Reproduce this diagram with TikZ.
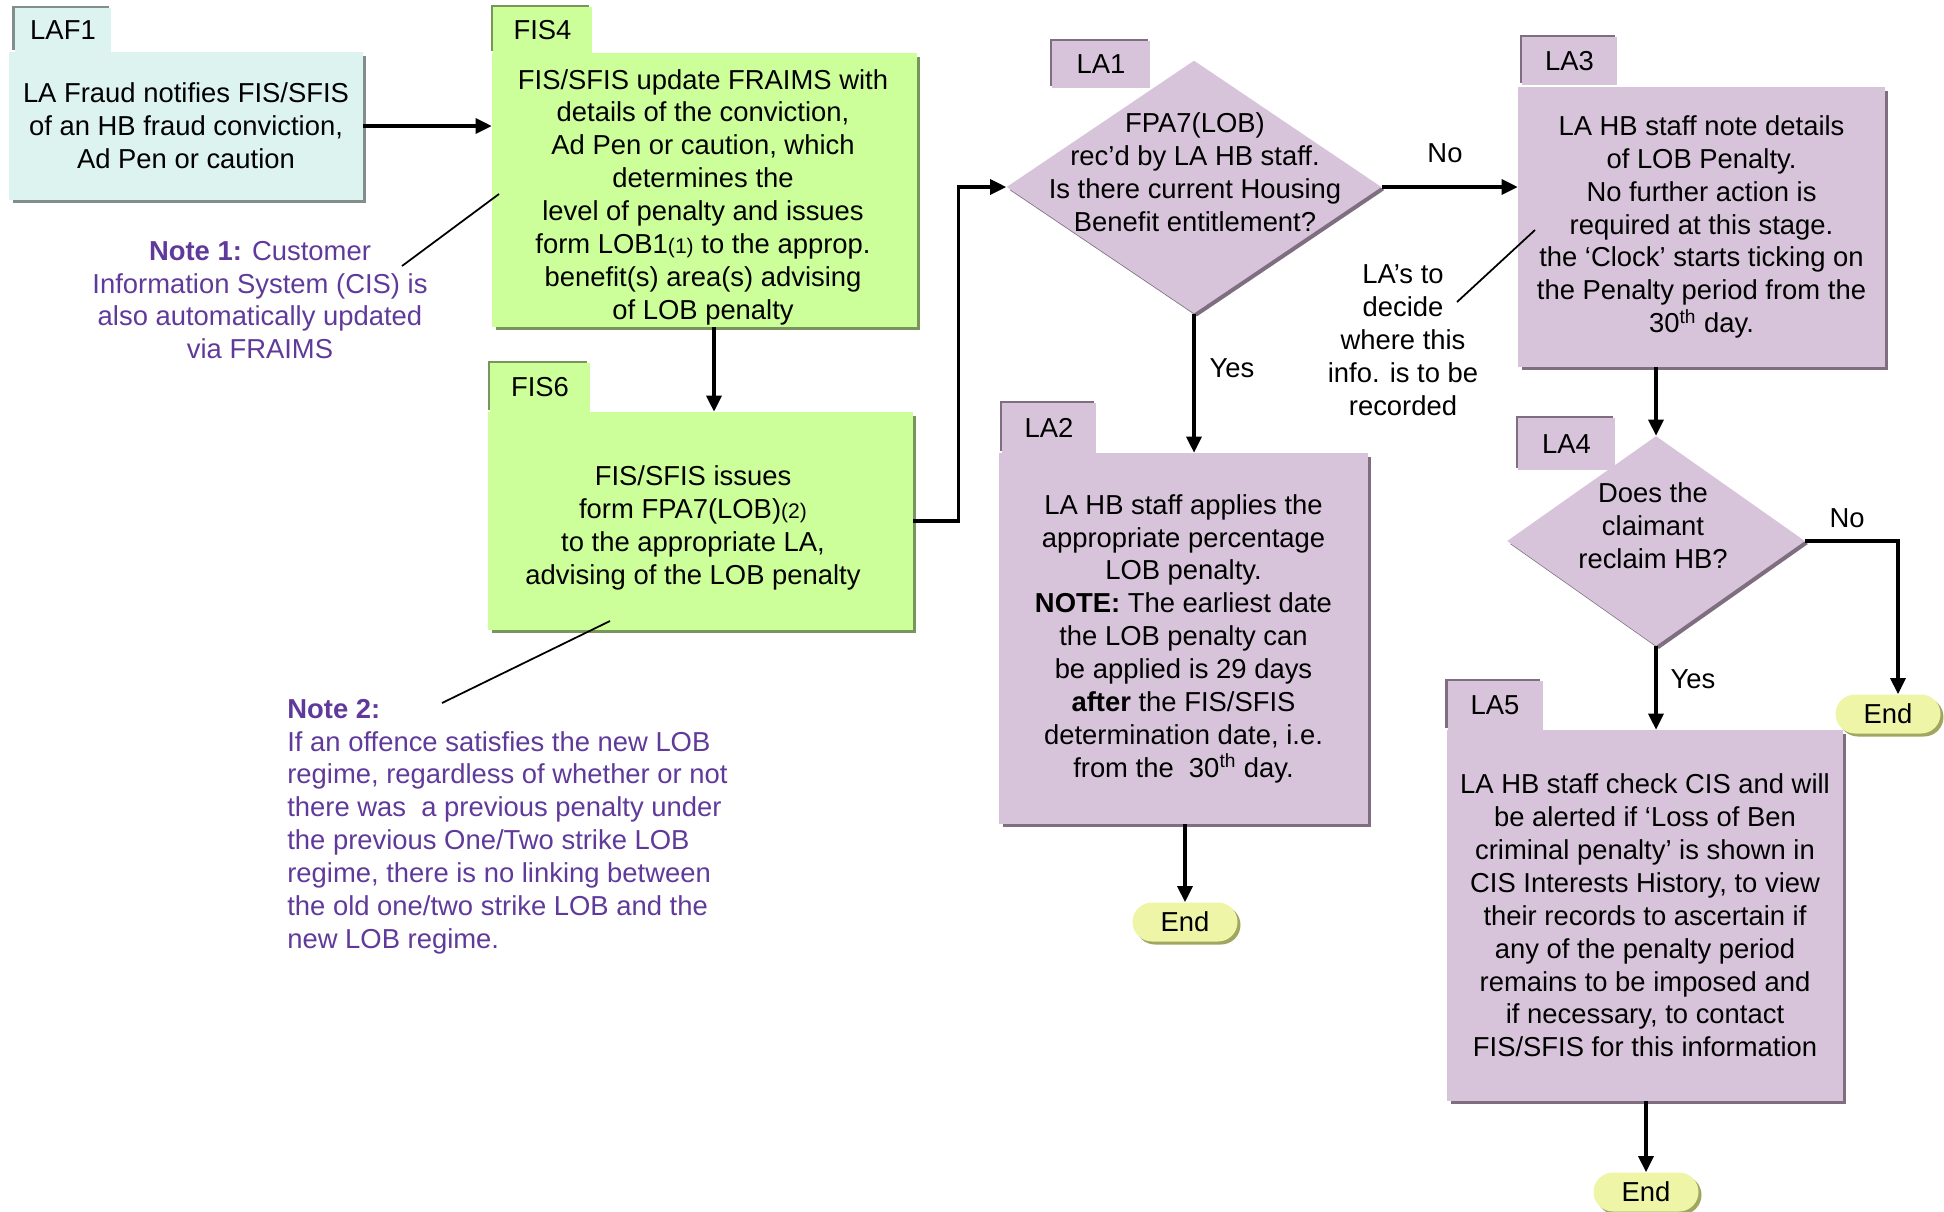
\documentclass[tikz,border=0pt]{standalone}
\usepackage{fontspec}
\setmainfont{Liberation Sans}
\usetikzlibrary{arrows.meta,shapes.geometric,shadows,calc}
\definecolor{laffill}{RGB}{221,243,240}
\definecolor{lafshadow}{RGB}{128,142,140}
\definecolor{fisfill}{RGB}{204,255,153}
\definecolor{fisshadow}{RGB}{120,150,92}
\definecolor{lafill}{RGB}{216,196,218}
\definecolor{lashadow}{RGB}{126,110,128}
\definecolor{endfill}{RGB}{238,245,166}
\definecolor{endshadow}{RGB}{160,166,96}
\definecolor{notepurple}{RGB}{96,58,154}
\begin{document}
\begin{tikzpicture}[x=0.02cm,y=-0.02cm,
  every node/.style={font=\fontsize{15.6}{18.7}\selectfont, inner sep=0pt},
  box/.style={rectangle, align=center},
  lafbox/.style={box, fill=laffill, drop shadow={shadow xshift=0.07cm, shadow yshift=-0.07cm, opacity=1, fill=lafshadow}},
  laftab/.style={box, fill=laffill, drop shadow={shadow xshift=-0.05cm, shadow yshift=0.05cm, opacity=1, fill=lafshadow}},
  fisbox/.style={box, fill=fisfill, drop shadow={shadow xshift=0.07cm, shadow yshift=-0.07cm, opacity=1, fill=fisshadow}},
  fistab/.style={box, fill=fisfill, drop shadow={shadow xshift=-0.05cm, shadow yshift=0.05cm, opacity=1, fill=fisshadow}},
  labox/.style={box, fill=lafill, drop shadow={shadow xshift=0.07cm, shadow yshift=-0.07cm, opacity=1, fill=lashadow}},
  latab/.style={box, fill=lafill, drop shadow={shadow xshift=-0.05cm, shadow yshift=0.05cm, opacity=1, fill=lashadow}},
  ladiam/.style={diamond, fill=lafill, drop shadow={shadow xshift=0.06cm, shadow yshift=-0.06cm, opacity=1, fill=lashadow}},
  endbox/.style={rectangle, rounded corners=0.39cm, minimum width=2.1cm, minimum height=0.78cm, fill=endfill, drop shadow={shadow xshift=0.06cm, shadow yshift=-0.06cm, opacity=1, fill=endshadow}},
  arr/.style={line width=1.8pt, -{Triangle[length=0.32cm,width=0.3cm]}},
  noteline/.style={line width=1pt},
  notetext/.style={text=notepurple}]
\useasboundingbox (0,0) rectangle (1944,1211);

% tabs
\node[laftab, minimum width=1.94cm, minimum height=0.88cm] (laf1tab) at (63,30) {LAF1};
\node[fistab, minimum width=1.98cm, minimum height=0.92cm] (fis4tab) at (542.5,30) {FIS4};
\node[fistab, minimum width=2.0cm, minimum height=0.98cm] (fis6tab) at (540,387.5) {FIS6};
\node[latab, minimum width=1.96cm, minimum height=0.94cm] (la1tab) at (1101,64.5) {LA1};
\node[latab, minimum width=1.9cm, minimum height=0.96cm] (la3tab) at (1569.5,61) {LA3};
\node[latab, minimum width=1.88cm, minimum height=1.0cm] (la2tab) at (1049,428) {LA2};
\node[latab, minimum width=1.94cm, minimum height=1.04cm] (la4tab) at (1566.5,444) {LA4};
\node[latab, minimum width=1.9cm, minimum height=0.98cm] (la5tab) at (1495,705.5) {LA5};

% main boxes
\node[lafbox, minimum width=7.08cm, minimum height=2.96cm] (laf1) at (186,126)
  {LA Fraud notifies FIS/SFIS\\of an HB fraud conviction,\\Ad Pen or caution};
\node[fisbox, minimum width=8.5cm, minimum height=5.48cm] (fis4) at (704.5,190) {};
\node[align=center] (fis4t) at (703,197)
  {FIS/SFIS update FRAIMS with\\details of the conviction,\\Ad Pen or caution, which\\determines the\\level of penalty and issues\\form LOB1{\fontsize{12}{14}\selectfont(1)} to the approp.\\benefit(s) area(s) advising\\of LOB penalty};
\node[fisbox, minimum width=8.5cm, minimum height=4.36cm] (fis6) at (700.5,521) {};
\node[align=center] (fis6t) at (693,528)
  {FIS/SFIS issues\\form FPA7(LOB){\fontsize{12}{14}\selectfont(2)}\\to the appropriate LA,\\advising of the LOB penalty};
\node[ladiam, minimum width=7.5cm, minimum height=5.06cm] (la1) at (1194,187) {};
\node[align=center] (la1t) at (1195,172)
  {FPA7(LOB)\\rec’d by LA HB staff.\\Is there current Housing\\Benefit entitlement?};
\node[labox, minimum width=7.34cm, minimum height=5.6cm] (la3) at (1701.5,227)
  {LA HB staff note details\\of LOB Penalty.\\No further action is\\required at this stage.\\the ‘Clock’ starts ticking on\\the Penalty period from the\\30\textsuperscript{th} day.};
\node[labox, minimum width=7.38cm, minimum height=7.42cm] (la2) at (1183.5,638.5)
  {LA HB staff applies the\\appropriate percentage\\LOB penalty.\\\textbf{NOTE:} The earliest date\\the LOB penalty can\\be applied is 29 days\\\textbf{after} the FIS/SFIS\\determination date, i.e.\\from the \ 30\textsuperscript{th} day.};
\node[ladiam, minimum width=5.96cm, minimum height=4.2cm] (la4) at (1656,541) {};
\node[align=center] (la4t) at (1653,526) {Does the\\claimant\\reclaim HB?};
\node[labox, minimum width=7.92cm, minimum height=7.42cm] (la5) at (1645,915.5)
  {LA HB staff check CIS and will\\be alerted if ‘Loss of Ben\\criminal penalty’ is shown in\\CIS Interests History, to view\\their records to ascertain if\\any of the penalty period\\remains to be imposed and\\if necessary, to contact\\FIS/SFIS for this information};
\node[endbox] (end1) at (1185,922) {End};
\node[endbox] (end2) at (1888,714) {End};
\node[endbox] (end3) at (1646,1192) {End};

% connectors
\coordinate (xa) at (714,0);
\draw[arr] (laf1.east) -- (laf1.east -| fis4.west);
\draw[arr] (fis4.south -| xa) -- (fis6.north -| xa);
\draw[arr] (fis6.east) -- ++(45,0) |- (la1.west);
\draw[arr] (la1.east) -- (la1.east -| la3.west);
\draw[arr] (la1.south) -- (la1.south |- la2.north);
\draw[arr] (end1.north |- la2.south) -- (end1.north);
\draw[arr] (la4.north |- la3.south) -- (la4.north);
\draw[arr] (la4.east) -| ([xshift=0.2cm]end2.north);
\draw[arr] (la4.south) -- (la4.south |- la5.north);
\draw[arr] (end3.north |- la5.south) -- (end3.north);

\node (lno1) at (1445,153) {No};
\node (lyes1) at (1232,368) {Yes};
\node (lno2) at (1847,518) {No};
\node (lyes2) at (1693,679) {Yes};

% notes
\node[notetext, align=center] (note1) at (260,300)
  {\textbf{Note 1:} Customer\\Information System (CIS) is\\also automatically updated\\via FRAIMS};
\node[notetext, align=left, anchor=west] (note2) at (287,826.5)
  {\textbf{Note 2:}\\If an offence satisfies the new LOB\\regime, regardless of whether or not\\there was \ a previous penalty under\\the previous One/Two strike LOB\\regime, there is no linking between\\the old one/two strike LOB and the\\new LOB regime.};
\node[align=center] (note3) at (1403,340) {LA’s to\\decide\\where this\\info. is to be\\recorded};

\coordinate (n1a) at (402,266); \coordinate (n1b) at (499,194);
\coordinate (n2a) at (442,703); \coordinate (n2b) at (610,621);
\coordinate (n3a) at (1457,302); \coordinate (n3b) at (1535,230);
\draw[noteline] (n1a) -- (n1b);
\draw[noteline] (n2a) -- (n2b);
\draw[noteline] (n3a) -- (n3b);
\end{tikzpicture}
\end{document}
